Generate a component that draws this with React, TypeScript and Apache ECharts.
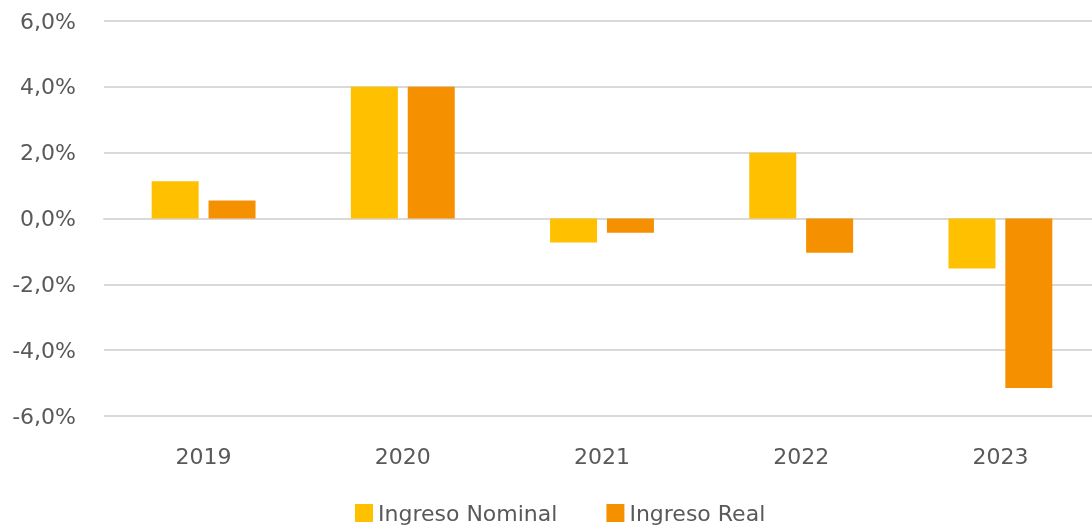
import React, { useEffect, useRef } from "react";
import * as echarts from "echarts";

const categories = ["2019", "2020", "2021", "2022", "2023"];
const nominal = [1.13, 4.0, -0.73, 2.0, -1.52];
const real = [0.55, 4.0, -0.43, -1.04, -5.15];
const seriesNames = ["Ingreso Nominal", "Ingreso Real"];

const fmt = (v: number) => v.toFixed(1).replace(".", ",") + "%";

export default function App() {
  const ref = useRef<HTMLDivElement>(null);
  useEffect(() => {
    if (!ref.current) return;
    const chart = echarts.init(ref.current, null, { renderer: "svg" });
    const font = "DejaVu Sans";
    chart.setOption({
      animation: false,
      textStyle: { fontFamily: font },
      grid: {
        left: 104,
        width: 996,
        top: 21,
        bottom: 112,
        containLabel: false,
        outerBoundsMode: "none",
      },
      legend: {
        data: seriesNames,
        top: 497,
        left: 350,
        itemWidth: 18,
        itemHeight: 18,
        itemGap: 49,
        icon: "rect",
        textStyle: { fontSize: 22, color: "#595959", fontFamily: font, lineHeight: 22 },
      },
      xAxis: {
        type: "category",
        data: categories,
        axisLine: { show: true, lineStyle: { color: "#d9d9d9", width: 2 } },
        axisTick: { show: false },
        axisLabel: { margin: 29, fontSize: 22, color: "#595959", fontFamily: font },
        position: "bottom",
      },
      yAxis: {
        type: "value",
        min: -6,
        max: 6,
        interval: 2,
        axisLabel: {
          formatter: (v: number) => fmt(v),
          margin: 28,
          fontSize: 22,
          color: "#595959",
          fontFamily: font,
        },
        splitLine: { lineStyle: { color: "#d9d9d9", width: 2 } },
        axisLine: { show: false },
        axisTick: { show: false },
      },
      series: [
        {
          name: seriesNames[0],
          type: "bar",
          data: nominal,
          barWidth: 47,
          barGap: "21%",
          itemStyle: { color: "#FFC000" },
        },
        {
          name: seriesNames[1],
          type: "bar",
          data: real,
          barWidth: 47,
          itemStyle: { color: "#F59100" },
        },
      ],
    });
    return () => chart.dispose();
  }, []);
  return (
    <div
      ref={ref}
      style={{ position: "fixed", left: 0, top: 0, width: 1092, height: 528 }}
    />
  );
}
